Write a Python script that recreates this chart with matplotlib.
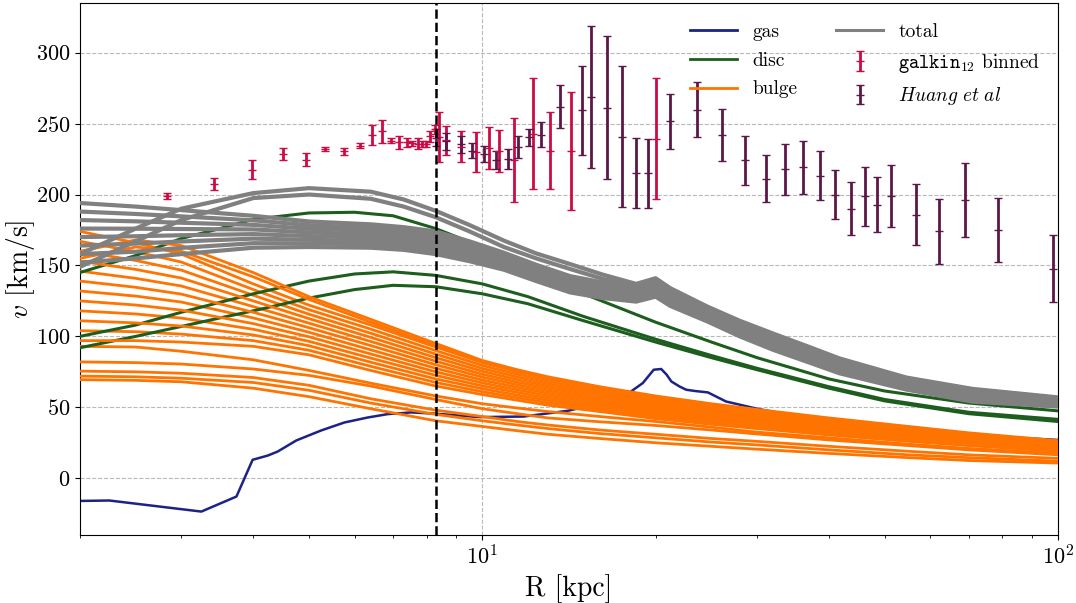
import numpy as np
import matplotlib.pyplot as plt
from matplotlib.lines import Line2D

plt.rcParams['font.family'] = 'serif'
plt.rcParams['font.serif'] = ['cmr10']
plt.rcParams['mathtext.fontset'] = 'cm'
plt.rcParams['axes.formatter.use_mathtext'] = True

# ---- data ----
R_sun = 8.3

gas_R = [2.0, 2.25, 3.25, 3.74, 3.99, 4.24, 4.41, 4.75, 5.25, 5.76, 6.32, 6.85, 7.52, 8.3, 9.9,
         11.8, 14.1, 16.1, 17.9, 19.0, 19.85, 20.45, 20.9, 21.3, 22.0, 22.6, 23.4, 24.65, 26.5,
         30.0, 34.8, 44.0, 55.0, 73.0, 100.0]
gas_v = [-16, -15.7, -23.5, -12.9, 13, 16, 18.8, 26.6, 33.7, 39.3, 42.8, 45.2, 46.4, 45.5, 43.1,
         43.5, 47.6, 53, 59.6, 67.1, 76.5, 77, 73, 68.2, 64.7, 62.4, 61.5, 60.5, 54.1,
         49, 44, 38, 33, 30, 27]

disc_R = [2, 2.5, 3, 3.5, 4, 5, 6, 7, 8.3, 10, 12, 15, 20, 25, 30, 40, 50, 70, 100]
disc_v = [
    [145, 157, 169, 176, 182.5, 187, 187.5, 185, 176, 163, 148.5, 130, 110, 96, 85, 70, 61.5, 53, 47.5],
    [100, 108, 117, 124, 130, 139, 144, 145.5, 143, 137, 128, 114, 98, 86.5, 77.5, 64.5, 55.5, 46.5, 41.5],
    [92, 100, 107, 113, 118, 127, 133, 136, 135, 130, 123, 111, 96, 85, 76.5, 63.5, 54.5, 45.5, 40],
]

bulge_R = [2, 2.5, 3, 4, 5, 6.4, 8.3, 10, 11.5, 13, 16, 20, 25, 30, 40, 55, 70, 100]
bulge_v = [
    [174, 166, 158, 137, 122, 108, 92.5, 81.5, 75, 70, 63, 57.5, 52, 48, 42, 36, 31.5, 26],
    [160, 168, 164, 145, 128, 112, 95, 83, 76.5, 71.5, 64.5, 58, 52.5, 48.5, 42.5, 36.5, 32, 26.5],
    [167, 159.7, 152.4, 133, 118.8, 105.1, 90, 79.5, 73.2, 68.3, 61.5, 56.1, 50.7, 46.8, 41, 35.1, 30.7, 25.4],
    [155, 163, 160, 142, 126, 110, 93.5, 82, 75.5, 70.5, 63.5, 57, 51.5, 47.5, 41.5, 35.5, 31, 26],
    [160, 153.5, 146.7, 129, 115.6, 102.2, 87.5, 77.4, 71.4, 66.6, 60.1, 54.7, 49.5, 45.6, 39.9, 34.2, 30, 24.7],
    [153, 147.2, 141.1, 125, 112.5, 99.3, 85, 75.4, 69.5, 65, 58.6, 53.3, 48.2, 44.5, 38.9, 33.3, 29.2, 24.1],
    [146, 140.9, 135.5, 121, 109.3, 96.4, 82.5, 73.3, 67.7, 63.3, 57.2, 51.9, 46.9, 43.3, 37.8, 32.4, 28.4, 23.5],
    [139, 134.6, 129.8, 117, 106.1, 93.5, 80, 71.3, 65.9, 61.6, 55.7, 50.5, 45.6, 42.1, 36.8, 31.5, 27.6, 22.8],
    [132, 128.4, 124.2, 113, 102.9, 90.5, 77.5, 69.2, 64.1, 59.9, 54.3, 49, 44.4, 40.9, 35.7, 30.5, 26.9, 22.2],
    [125, 122.1, 118.5, 109, 99.7, 87.6, 75, 67.2, 62.3, 58.2, 52.8, 47.6, 43.1, 39.7, 34.7, 29.6, 26.1, 21.5],
    [118, 115.8, 112.9, 105, 96.5, 84.7, 72.5, 65.1, 60.5, 56.5, 51.4, 46.2, 41.8, 38.5, 33.6, 28.7, 25.3, 20.9],
    [111, 109.5, 107.3, 101, 93.4, 81.8, 70, 63.1, 58.6, 54.9, 49.9, 44.8, 40.5, 37.4, 32.6, 27.8, 24.5, 20.3],
    [104, 103.3, 101.6, 97, 90.2, 78.9, 67.5, 61, 56.8, 53.2, 48.5, 43.4, 39.3, 36.2, 31.5, 26.9, 23.8, 19.6],
    [97, 97, 96, 93, 87, 76, 65, 59, 55, 51.5, 47, 42, 38, 35, 30.5, 26, 23, 19],
    [93, 92.5, 89.5, 83.5, 76, 67, 58, 52.5, 49.5, 47, 43.5, 40, 36, 32.5, 28.5, 24, 21, 17.5],
    [82, 81.5, 80.5, 77, 72.5, 65, 55.5, 49, 45.5, 42.5, 39.8, 37.2, 34, 31.2, 27, 23, 20, 16.5],
    [75.5, 75, 74, 71, 65.5, 56, 48, 43.5, 40, 37.5, 34, 31, 28, 26, 22.5, 19, 16.5, 14],
    [72, 71.5, 70.5, 67.5, 62, 53, 45, 40.5, 37.5, 35, 31.5, 28.5, 25.5, 23.5, 20, 16.5, 14.5, 12],
    [69.5, 69, 68, 63.5, 57.5, 49, 40.5, 36.5, 33.5, 31, 28, 25, 22.5, 20.5, 17.5, 14.5, 12.5, 10.7],
]

total_R = [2, 2.5, 3, 4, 5, 6.4, 7.3, 8.3, 9.5, 10.9, 12.4, 14.2, 16.2, 18.5, 20, 21.2, 24.6,
           28, 32, 37, 41.7, 54.5, 71, 100]
total_v = [
    [194, 191.5, 189, 185, 181, 179, 177, 174, 167, 159, 150.5, 142.5, 138, 135, 139, 133, 120,
     110, 101, 91.5, 83.5, 70.5, 62.5, 56.5],
    [188, 186.3, 184.6, 181.8, 178.4, 176.6, 174.7, 171.7, 165, 157.3, 148.9, 140.9, 136.4, 133.5, 137.4, 131.4, 118.6,
     108.6, 99.5, 90.1, 82.1, 69.4, 61.3, 55.6],
    [182, 181.1, 180.1, 178.6, 175.9, 174.3, 172.4, 169.4, 163, 155.6, 147.3, 139.2, 134.9, 132, 135.9, 129.7, 117.3,
     107.1, 98, 88.7, 80.8, 68.2, 60.1, 54.8],
    [176, 175.9, 175.7, 175.4, 173.3, 171.9, 170.1, 167.1, 161, 153.9, 145.6, 137.6, 133.3, 130.5, 134.3, 128.1, 115.9,
     105.7, 96.5, 87.2, 79.4, 67.1, 58.9, 53.9],
    [170, 170.6, 171.3, 172.1, 170.7, 169.6, 167.9, 164.9, 159, 152.1, 143.9, 135.9, 131.7, 129, 132.7, 126.4, 114.6,
     104.3, 95, 85.8, 78.1, 65.9, 57.6, 53.1],
    [164, 165.4, 166.9, 168.9, 168.1, 167.2, 165.6, 162.6, 157, 150.4, 142.3, 134.3, 130.1, 127.5, 131.1, 124.8, 113.2,
     102.9, 93.5, 84.4, 76.7, 64.8, 56.4, 52.2],
    [158, 159.7, 162.4, 165.7, 165.6, 164.9, 163.3, 160.3, 155, 148.7, 140.6, 132.6, 128.6, 126, 129.6, 123.1, 111.9,
     101.4, 92, 82.9, 75.4, 63.6, 55.2, 51.4],
    [152, 155, 158, 162.5, 163, 162.5, 161, 158, 153, 147, 139, 131, 127, 124.5, 128, 121.5, 110.5,
     100, 90.5, 81.5, 74, 62.5, 54, 50.5],
    [158, 176, 190, 201, 204.5, 202, 196.5, 188.5, 178.5, 167.5, 158.5, 151, 143.5, 137, 141, 134, 121,
     111, 102, 92.5, 84.5, 71, 63, 57],
    [149, 167, 182, 197.5, 200, 197, 191.5, 184, 174, 163, 155, 147.5, 140.5, 135.5, 139.5, 132.5, 119.5,
     109.5, 100, 91, 83, 70, 62, 56],
]

galkin_R = [2.83, 3.42, 3.98, 4.51, 4.94, 5.34, 5.76, 6.13, 6.42, 6.69, 6.95, 7.16, 7.40, 7.55, 7.73,
            7.86, 7.99, 8.12, 8.26, 8.42, 8.66, 9.18, 9.76, 10.26, 10.68, 11.34, 12.25, 13.13, 14.28, 20.0]
galkin_v = [199, 207.4, 217.5, 228.6, 224.6, 232, 230.4, 234.5, 242, 244.6, 238, 236.8, 236.8, 236, 235.9,
            235.5, 235.5, 241, 246, 240.4, 238.4, 233.6, 230, 232.7, 230.8, 224.2, 243, 231, 230.8, 239.3]
galkin_err = [2, 3.9, 6.5, 4.4, 4.5, 1.5, 2.5, 1.5, 7.3, 8.2, 2, 4.4, 3, 2, 4,
              2, 2, 4, 3, 17.6, 10.2, 10.9, 14.1, 14.7, 14.9, 29.8, 39.3, 27.1, 41.4, 42.8]

huang_R = [8.30, 8.63, 9.18, 9.60, 10.06, 10.55, 11.06, 11.53, 12.04, 12.66, 13.67, 14.90, 15.47, 16.49,
           17.48, 18.47, 19.43, 21.15, 23.59, 26.12, 28.58, 31.13, 33.54, 36.01, 38.53, 40.96, 43.65,
           46.12, 48.44, 51.23, 56.60, 62.08, 68.99, 78.70, 98.17]
huang_v = [240, 237.4, 235.5, 230.9, 228.5, 224.3, 225.2, 233.5, 240.2, 242.3, 262, 259.3, 268.7, 261.2,
           240.7, 215.3, 215, 251.7, 259.8, 242, 224.1, 211.2, 217.9, 219.2, 213.3, 200, 190.1,
           198.8, 192.9, 198.9, 185.9, 174, 196.2, 175, 147.8]
huang_err = [6, 6.1, 6.1, 5.5, 5.6, 6.2, 7.1, 7.6, 6.1, 8.7, 14.9, 31.1, 49.8, 50.6,
             49.7, 24.7, 24.4, 19.5, 19.6, 18.5, 17.1, 16.4, 17.9, 18.5, 17.3, 17.6, 18.6,
             20.7, 19.3, 21.8, 21.6, 22.9, 26.1, 22.7, 23.8]

c_gas = '#1c2384'
c_disc = '#1d5e1f'
c_bulge = '#ff7400'
c_total = '#808080'
c_galkin = '#cc0a43'
c_huang = '#5c1748'

fig = plt.figure(figsize=(10.76, 6.03), dpi=100)
ax = fig.add_axes([0.0743, 0.1128, 0.909, 0.8822])

ax.plot(gas_R, gas_v, color=c_gas, lw=1.8, zorder=2)

# bulge / disc interleaved so the disc shows through in pieces
for i, v in enumerate(bulge_v):
    if i % 2 == 0:
        ax.plot(bulge_R, v, color=c_bulge, lw=2.0, zorder=3)
for v in disc_v:
    ax.plot(disc_R, v, color=c_disc, lw=2.2, zorder=3)
for i, v in enumerate(bulge_v):
    if i % 2 == 1:
        ax.plot(bulge_R, v, color=c_bulge, lw=2.0, zorder=3)
for v in total_v:
    ax.plot(total_R, v, color=c_total, lw=3.0, zorder=4)

h_galkin = ax.errorbar(galkin_R, galkin_v, yerr=galkin_err, fmt='_', color=c_galkin,
                       ecolor=c_galkin, elinewidth=2, capsize=3, capthick=1.2,
                       markersize=6, mew=1, zorder=5)
h_huang = ax.errorbar(huang_R, huang_v, yerr=huang_err, fmt='_', color=c_huang,
                      ecolor=c_huang, elinewidth=2, capsize=3, capthick=1.2,
                      markersize=6, mew=1, zorder=5)

ax.axvline(R_sun, color='k', ls='--', lw=1.8, zorder=6)

ax.set_xscale('log')
ax.set_xlim(2, 100)
ax.set_ylim(-40, 335)
ax.grid(True, which='major', ls='--', color='#b8b8b8', lw=0.8)
ax.set_axisbelow(True)
ax.tick_params(labelsize=16)
ax.set_xlabel('R [kpc]', fontsize=20)
ax.set_ylabel(r'$v$ [km/s]', fontsize=20, labelpad=-1)

handles = [Line2D([], [], color=c_gas, lw=2),
           Line2D([], [], color=c_disc, lw=2),
           Line2D([], [], color=c_bulge, lw=2),
           Line2D([], [], color=c_total, lw=2.2),
           h_galkin, h_huang]
labels = ['gas', 'disc', 'bulge', 'total', r'$\mathtt{galkin}_{12}$ binned', r'$Huang\ et\ al$']
ax.legend(handles, labels, ncol=2, loc='upper right', bbox_to_anchor=(1.0, 0.995),
          frameon=False, fontsize=14, handlelength=2.4, columnspacing=2.0, labelspacing=0.55)

fig.savefig('out.png', dpi=100)
